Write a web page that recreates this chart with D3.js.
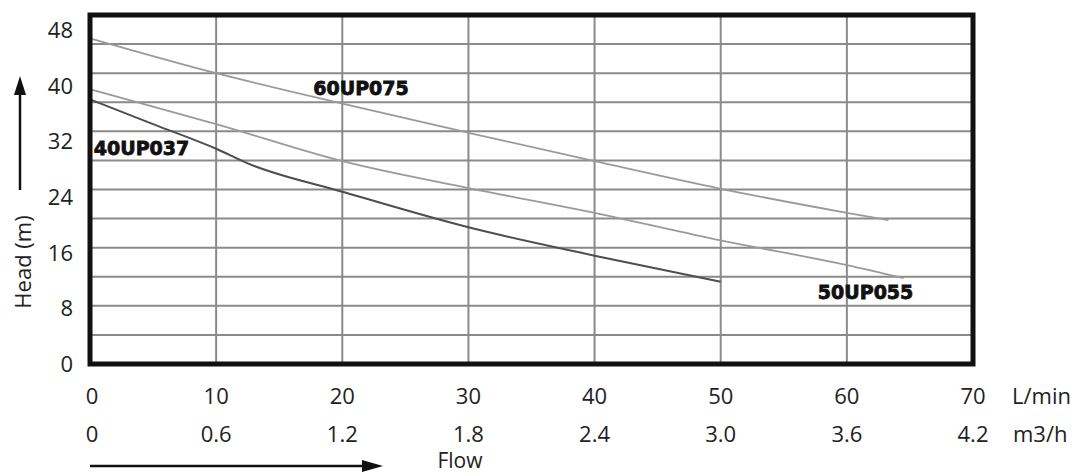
<!DOCTYPE html>
<html><head><meta charset="utf-8">
<script src="https://cdn.jsdelivr.net/npm/d3@7/dist/d3.min.js"></script>
<style>body{margin:0;background:#fff}svg{display:block}</style></head>
<body><svg id="c" width="1079" height="475"></svg>
<script>
// ---- data ----
const flowTicks = [0, 10, 20, 30, 40, 50, 60, 70];
const m3hLabels = ["0", "0.6", "1.2", "1.8", "2.4", "3.0", "3.6", "4.2"];
const headTicks = [0, 8, 16, 24, 32, 40, 48];
const headGrid = [4, 8, 12, 16, 20, 24, 28, 32, 36, 40, 44];
const seriesNames = ["60UP075", "50UP055", "40UP037"];
const flow60 = [0, 10, 20, 30, 40, 50, 60, 63.3];
const head60 = [44.8, 40.0, 35.8, 31.8, 27.9, 24.1, 20.8, 19.8];
const flow50 = [0, 10, 20, 30, 40, 50, 60, 64.5];
const head50 = [37.8, 33.0, 27.9, 24.2, 20.8, 17.0, 13.6, 11.8];
const flow40 = [0, 5, 10, 12.5, 20, 30, 40, 50];
const head40 = [36.4, 33.0, 29.6, 27.6, 23.7, 18.8, 14.9, 11.3];
const labelFlow = [17.7, 57.7, 0.3];
const labelHead = [38.0, 9.9, 29.7];

// ---- layout ----
const L = 90, R = 973, T = 15, B = 364;
const x = d3.scaleLinear().domain([0, 70]).range([L, R]);
const y = d3.scaleLinear().domain([0, 48]).range([B, T]);
const yLab = d3.scaleLinear().domain([0, 48]).range([363, 29]);
const svg = d3.select("#c");
const tickFont = "'Open Sans', sans-serif";
const fs = 22;

// grid
svg.append("g").selectAll("line").data(headGrid).join("line")
  .attr("x1", L).attr("x2", R).attr("y1", d => y(d)).attr("y2", d => y(d))
  .attr("stroke", "#8a8a8a").attr("stroke-width", 2);
svg.append("g").selectAll("line").data(flowTicks.slice(1, -1)).join("line")
  .attr("y1", T).attr("y2", B).attr("x1", d => x(d)).attr("x2", d => x(d))
  .attr("stroke", "#8a8a8a").attr("stroke-width", 2);

// curves
const curves = [
  {f: flow60, h: head60, c: "#9a9a9a", w: 1.8},
  {f: flow50, h: head50, c: "#9a9a9a", w: 1.8},
  {f: flow40, h: head40, c: "#4e4e4e", w: 2}
];
const line = d3.line().x(d => x(d[0])).y(d => y(d[1])).curve(d3.curveMonotoneX);
svg.append("g").selectAll("path").data(curves).join("path")
  .attr("d", s => line(s.f.map((v, i) => [v, s.h[i]])))
  .attr("fill", "none").attr("stroke", s => s.c).attr("stroke-width", s => s.w);

// frame
svg.append("rect").attr("x", L).attr("y", T).attr("width", R - L).attr("height", B - T)
  .attr("fill", "none").attr("stroke", "#111").attr("stroke-width", 5);

// series labels
svg.append("g").selectAll("text").data(seriesNames).join("text")
  .attr("x", (d, i) => x(labelFlow[i])).attr("y", (d, i) => y(labelHead[i]))
  .attr("dominant-baseline", "central")
  .attr("font-family", "'DejaVu Sans', sans-serif").attr("font-weight", "bold")
  .attr("font-size", 19).attr("fill", "#111").attr("stroke", "#111").attr("stroke-width", 0.8)
  .text(d => d);

// y tick labels
svg.append("g").selectAll("text").data(headTicks).join("text")
  .attr("x", 73).attr("y", d => yLab(d)).attr("text-anchor", "end")
  .attr("dominant-baseline", "central")
  .attr("font-family", tickFont).attr("font-size", fs).attr("fill", "#222").text(d => d);

// x tick labels
svg.append("g").selectAll("text").data(flowTicks).join("text")
  .attr("x", d => x(d) + (d === 0 ? 2 : 0)).attr("y", 395).attr("text-anchor", "middle")
  .attr("dominant-baseline", "central")
  .attr("font-family", tickFont).attr("font-size", fs).attr("fill", "#222").text(d => d);
svg.append("g").selectAll("text").data(m3hLabels).join("text")
  .attr("x", (d, i) => x(flowTicks[i]) + (i === 0 ? 2 : 0)).attr("y", 433).attr("text-anchor", "middle")
  .attr("dominant-baseline", "central")
  .attr("font-family", tickFont).attr("font-size", fs).attr("fill", "#222").text(d => d);

// units
svg.append("text").attr("x", 1012).attr("y", 395).attr("dominant-baseline", "central")
  .attr("font-family", tickFont).attr("font-size", fs).attr("fill", "#222").text("L/min");
svg.append("text").attr("x", 1013).attr("y", 433).attr("dominant-baseline", "central")
  .attr("font-family", tickFont).attr("font-size", fs).attr("fill", "#222").text("m3/h");

// axis titles
svg.append("text").attr("x", 460).attr("y", 460).attr("text-anchor", "middle")
  .attr("dominant-baseline", "central")
  .attr("font-family", tickFont).attr("font-size", 21).attr("fill", "#222").text("Flow");
svg.append("text").attr("transform", "translate(22,262) rotate(-90)")
  .attr("text-anchor", "middle").attr("dominant-baseline", "central")
  .attr("font-family", tickFont).attr("font-size", fs).attr("fill", "#222").text("Head (m)");

// arrows
svg.append("line").attr("x1", 20).attr("x2", 20).attr("y1", 190).attr("y2", 92)
  .attr("stroke", "#111").attr("stroke-width", 2.5);
svg.append("path").attr("d", "M20,76 L14,95 L26,95 Z").attr("fill", "#111");
svg.append("line").attr("x1", 90).attr("x2", 366).attr("y1", 466).attr("y2", 466)
  .attr("stroke", "#111").attr("stroke-width", 2.5);
svg.append("path").attr("d", "M383,466 L362,460 L362,472 Z").attr("fill", "#111");
</script></body></html>
